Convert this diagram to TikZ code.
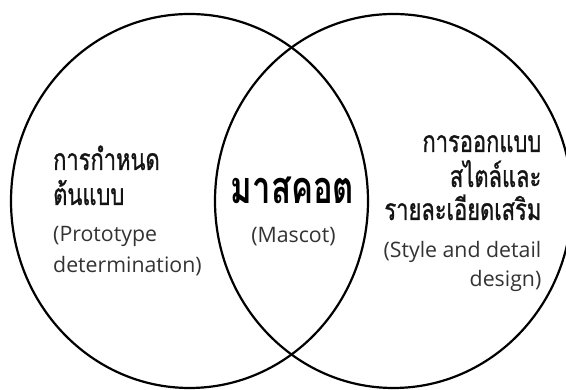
\documentclass[tikz,border=0pt]{standalone}
\usepackage{fontspec}
\setmainfont{Open Sans}
\newfontfamily\thaifont[Script=Thai,FakeStretch=0.73,FakeBold=0.9]{Loma}
\newfontfamily\thaibold[Script=Thai,FakeStretch=0.73]{Loma Bold}
\tikzset{
  ring/.style={draw=black, line width=2.2pt},
  thai/.style={font=\thaifont\fontsize{30}{30}\selectfont, text=black!92, inner sep=0pt},
  thaibig/.style={font=\thaibold\fontsize{45}{45}\selectfont, text=black, inner sep=0pt},
  eng/.style={font=\fontsize{21.3}{21.3}\selectfont, text=black!80, inner sep=0pt}
}
\begin{document}
\begin{tikzpicture}[x=1pt,y=1pt]
\useasboundingbox (0,0) rectangle (566,390);
\clip (0,0) rectangle (566,390);
\fill[white] (0,0) rectangle (566,390);
\draw[ring] (189.5,189) ellipse [x radius=178.5, y radius=187];
\draw[ring] (393.5,189) ellipse [x radius=178.5, y radius=187];
% left
\node[thai, anchor=base west] (l1) at (53,220) {การกำหนด};
\node[thai, anchor=base west] (l2) at (53,185) {ต้นแบบ};
\node[eng, anchor=base west] (l3) at (53,148) {(Prototype};
\node[eng, anchor=base west] (l4) at (53,117) {determination)};
% center
\node[thaibig, anchor=base] (c1) at (292.5,186) {มาสคอต};
\node[eng, anchor=base] (c2) at (293.5,147) {(Mascot)};
% right
\node[thai, anchor=base east] (r1) at (541.5,238) {การออกแบบ};
\node[thai, anchor=base east] (r2) at (541.5,203) {สไตล์และ};
\node[thai, anchor=base east] (r3) at (541.5,170) {รายละเอียดเสริม};
\node[eng, anchor=base east] (r4) at (541.5,132) {(Style and detail};
\node[eng, anchor=base east] (r5) at (541.5,103) {design)};
\end{tikzpicture}
\end{document}
